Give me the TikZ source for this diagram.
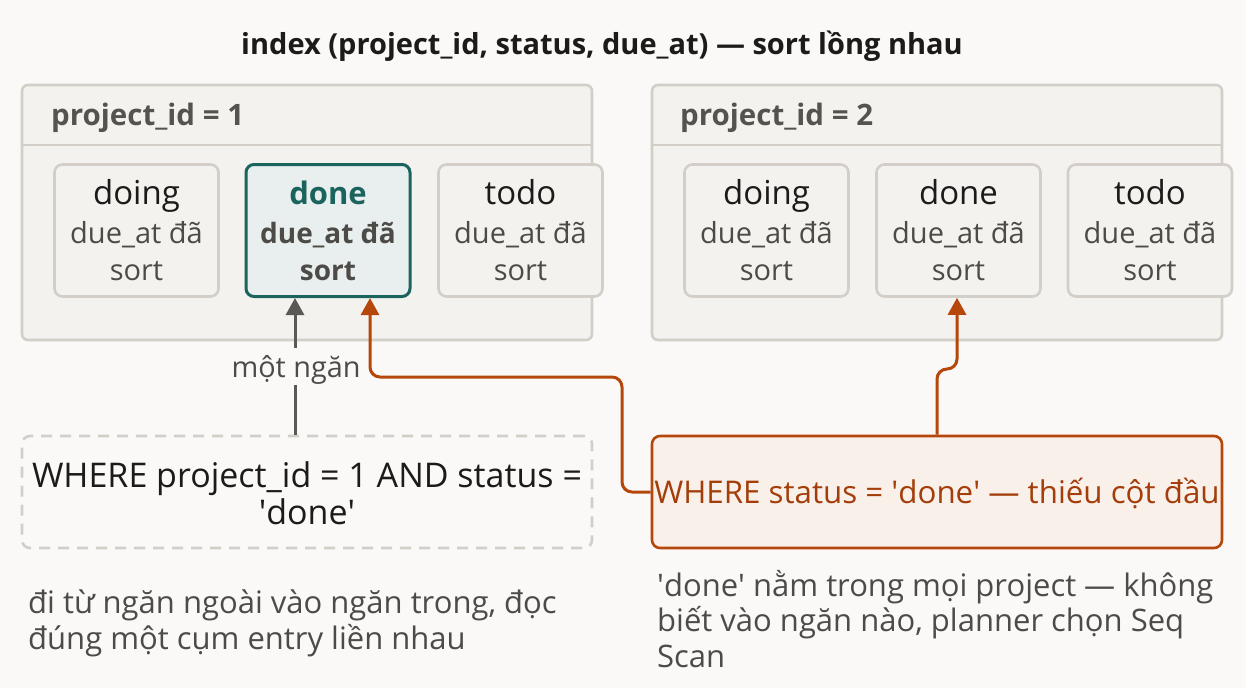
\documentclass[tikz,border=0pt]{standalone}
\usepackage{fontspec}
\setmainfont{Open Sans}
\newfontfamily\qfont{Open Sans}
\newcommand\sq{{\qfont\char"0027}}
\usetikzlibrary{arrows.meta}
\definecolor{bg}{HTML}{FAF9F7}
\definecolor{panelfill}{HTML}{F3F2EF}
\definecolor{panelline}{HTML}{D3CFC8}
\definecolor{teal}{HTML}{1B635D}
\definecolor{tealfill}{HTML}{E9EFEE}
\definecolor{orng}{HTML}{B5470B}
\definecolor{orngtext}{HTML}{A33E0A}
\definecolor{orngfill}{HTML}{FAF0EA}
\definecolor{arrowgray}{HTML}{5A5954}
\definecolor{txtgray}{HTML}{4D4B47}
\definecolor{headgray}{HTML}{55534F}
\definecolor{ink}{HTML}{1C1B19}
\tikzset{
  panel/.style={draw=panelline, line width=2.6pt, fill=panelfill, rounded corners=6pt, minimum width=570pt, minimum height=255pt, inner sep=0pt},
  cell/.style={draw=panelline, line width=2.6pt, fill=panelfill, rounded corners=8pt, minimum width=164pt, minimum height=132pt, inner sep=0pt},
  hotcell/.style={cell, draw=teal, line width=3pt, fill=tealfill},
  celltitle/.style={font=\fontsize{33}{38}\selectfont, text=ink, inner sep=0pt, anchor=base},
  cellsub/.style={font=\fontsize{29}{32}\selectfont, text=txtgray, inner sep=0pt, anchor=base},
  headtxt/.style={font=\fontsize{29.5}{32}\selectfont\bfseries, text=headgray, anchor=base west, inner sep=0pt},
  qbox/.style={draw=panelline, line width=2.6pt, dash pattern=on 11pt off 8pt, rounded corners=8pt, minimum width=570pt, minimum height=112pt, inner sep=0pt},
  obox/.style={draw=orng, line width=2.6pt, fill=orngfill, rounded corners=8pt, minimum width=570pt, minimum height=112pt, inner sep=0pt},
  note/.style={font=\fontsize{31}{35.5}\selectfont, text=txtgray, anchor=north west, align=left, inner sep=0pt},
  garrow/.style={draw=arrowgray, line width=3pt, -{Triangle[length=17pt,width=18pt]}},
  oarrow/.style={draw=orng, line width=3pt, rounded corners=10pt, -{Triangle[length=17pt,width=18pt]}},
}
\begin{document}
\begin{tikzpicture}[x=1pt,y=-1pt]
\fill[bg] (0,0) rectangle (1246,688);
\useasboundingbox (0,0) rectangle (1246,688);

\node[font=\fontsize{29}{32}\selectfont\bfseries, text=ink] (title) at (602,46) {index (project\_id, status, due\_at) — sort lồng nhau};

% panels
\node[panel] (p1) at (307,212.5) {};
\node[panel] (p2) at (937,212.5) {};
\coordinate (h1) at (0,145);
\draw[panelline, line width=2.6pt] (p1.west |- h1) -- (p1.east |- h1);
\draw[panelline, line width=2.6pt] (p2.west |- h1) -- (p2.east |- h1);
\node[headtxt] (p1h) at (51,125) {project\_id = 1};
\node[headtxt] (p2h) at (680,125) {project\_id = 2};

% cells panel 1
\node[cell] (a1) at (136.5,230.5) {};
\node[hotcell] (a2) at (328,230.5) {};
\node[cell] (a3) at (520.5,230.5) {};
\node[celltitle] (a1t) at (136.5,204) {doing};
\node[cellsub] (a1s) at (136.5,243) {due\_at đã};
\node[cellsub] (a1r) at (136.5,280) {sort};
\node[celltitle, text=teal, font=\fontsize{31}{36}\selectfont\bfseries] (a2t) at (328,204) {done};
\node[cellsub, font=\fontsize{28}{32}\selectfont\bfseries] (a2s) at (328,243) {due\_at đã};
\node[cellsub, font=\fontsize{28}{32}\selectfont\bfseries] (a2r) at (328,280) {sort};
\node[celltitle] (a3t) at (520.5,204) {todo};
\node[cellsub] (a3s) at (520.5,243) {due\_at đã};
\node[cellsub] (a3r) at (520.5,280) {sort};

% cells panel 2
\node[cell] (b1) at (766.5,230.5) {};
\node[cell] (b2) at (958.5,230.5) {};
\node[cell] (b3) at (1150,230.5) {};
\node[celltitle] (b1t) at (766.5,204) {doing};
\node[cellsub] (b1s) at (766.5,243) {due\_at đã};
\node[cellsub] (b1r) at (766.5,280) {sort};
\node[celltitle] (b2t) at (958.5,204) {done};
\node[cellsub] (b2s) at (958.5,243) {due\_at đã};
\node[cellsub] (b2r) at (958.5,280) {sort};
\node[celltitle] (b3t) at (1150,204) {todo};
\node[cellsub] (b3s) at (1150,243) {due\_at đã};
\node[cellsub] (b3r) at (1150,280) {sort};

% query boxes
\node[qbox] (q1) at (307,492) {};
\node[font=\fontsize{34}{37}\selectfont, text=ink, align=center, inner sep=0pt] (q1t) at (307,493) {WHERE project\_id = 1 AND status =\\\sq done\sq};
\node[obox] (q2) at (937,492) {};
\node[font=\fontsize{31.3}{34}\selectfont, text=orngtext, inner sep=0pt] (q2t) at (937,493) {WHERE status = \sq done\sq{} — thiếu cột đầu};

% gray arrow with label
\node[font=\fontsize{28.8}{30}\selectfont, text=txtgray, inner sep=0pt, anchor=base] (lbl) at (296,377) {một ngăn};
\coordinate (g1) at (295,385);
\coordinate (g2) at (295,348);
\draw[draw=arrowgray, line width=3pt] (q1.north -| g1) -- (g1);
\draw[garrow] (g2) -- (a2.south -| g2);

% orange arrows
\coordinate (ox) at (370,0);
\draw[oarrow] (q2.west) -- (622,492) -- (622,377) -- (370,377) -- (a2.south -| ox);
\coordinate (oy) at (957,0);
\draw[oarrow] (q2.north) -- (937,369) -- (957,369) -- (b2.south -| oy);

% notes
\node[note] (n1) at (28,590) {đi từ ngăn ngoài vào ngăn trong, đọc\\đúng một cụm entry liền nhau};
\node[note] (n2) at (657,570) {\sq done\sq{} nằm trong mọi project — không\\biết vào ngăn nào, planner chọn Seq\\Scan};
\end{tikzpicture}
\end{document}
